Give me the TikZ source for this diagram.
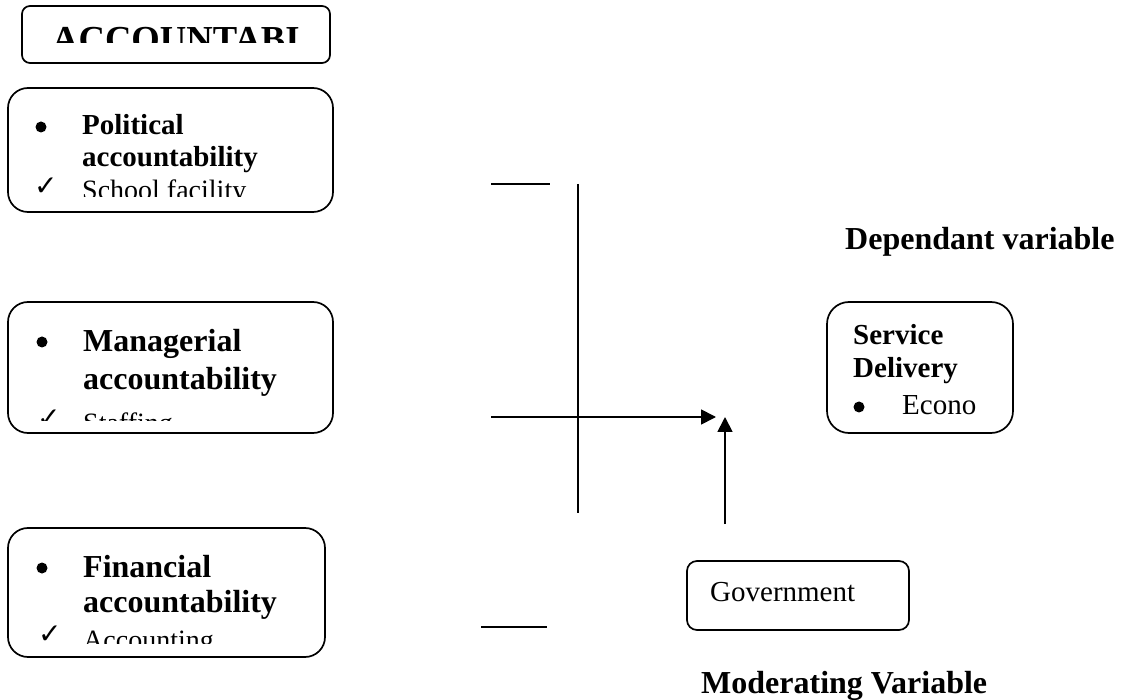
\documentclass[tikz,border=0pt]{standalone}
\usepackage{fontspec}
\setmainfont{Liberation Serif}
\newfontfamily\symfont{DejaVu Sans}
\usetikzlibrary{arrows.meta}
\begin{document}
\begin{tikzpicture}[x=1pt,y=-1pt,
  box/.style={draw, line width=1.7pt, rounded corners=#1, inner sep=0pt},
  box/.default=20pt,
  tr/.style={anchor=base west, inner sep=0pt, font=\fontsize{#1pt}{#1pt}\selectfont},
  tb/.style={anchor=base west, inner sep=0pt, font=\fontsize{#1pt}{#1pt}\selectfont\bfseries},
  chk/.style={anchor=base west, inner sep=0pt, font=\symfont\fontsize{28pt}{28pt}\selectfont},
  link/.style={line width=1.8pt},
  arr/.style={line width=1.8pt, -{Triangle[length=15pt,width=15pt]}},
  dot/.style={fill=black}
  ]
\useasboundingbox (0,0) rectangle (1122,700);

% boxes
\node[box=8pt, minimum width=308pt, minimum height=57pt] (acc) at (176,34.5) {};
\node[box, minimum width=325pt, minimum height=124pt] (pol) at (170.5,150) {};
\node[box, minimum width=325pt, minimum height=131pt] (man) at (170.5,367.5) {};
\node[box, minimum width=317pt, minimum height=129pt] (fin) at (166.5,592.5) {};
\node[box=22pt, minimum width=186pt, minimum height=131pt] (srv) at (920,367.5) {};
\node[box=10pt, minimum width=222pt, minimum height=69pt] (gov) at (798,595.5) {};

% title box text (clipped)
\begin{scope}
  \clip (22,6) rectangle (330,43);
  \node[tb=36.6] (acct) at (52,52) {ACCOUNTABI};
\end{scope}

% political
\begin{scope}
  \clip (8,88) rectangle (333,197);
  \fill[dot] (41,127) circle (5.5);
  \node[tb=29] (pol1) at (82,135) {Political};
  \node[tb=29] (pol2) at (82,167) {accountability};
  \node[chk] (pol3c) at (34,196) {✓};
  \node[tr=28] (pol3) at (82,200) {School facility};
\end{scope}

% managerial
\begin{scope}
  \clip (8,302) rectangle (333,421);
  \fill[dot] (42,342) circle (5.5);
  \node[tb=32] (man1) at (83,352) {Managerial};
  \node[tb=32] (man2) at (83,390) {accountability};
  \node[chk] (man3c) at (37,428) {✓};
  \node[tr=28] (man3) at (83,432) {Staffing};
\end{scope}

% financial
\begin{scope}
  \clip (8,528) rectangle (325,643);
  \fill[dot] (42,568) circle (5.5);
  \node[tb=32] (fin1) at (83,577) {Financial};
  \node[tb=32] (fin2) at (83,612) {accountability};
  \node[chk] (fin3c) at (38,643) {✓};
  \node[tr=28] (fin3) at (83,649) {Accounting};
\end{scope}

% service delivery
\node[tb=29] (srv1) at (853,345) {Service};
\node[tb=29] (srv2) at (853,378) {Delivery};
\fill[dot] (859,407) circle (5.5);
\node[tr=29] (srv3) at (902,414) {Econo};

% government
\node[tr=29] (govt) at (710,601) {Government};

% labels
\node[tb=32] (dep) at (845,250) {Dependant variable};
\node[tb=32] (mod) at (701,693) {Moderating Variable};

% connectors
\coordinate (tlA) at (491,184);
\coordinate (tlB) at (550,184);
\coordinate (vA) at (578,184);
\coordinate (vB) at (578,513);
\coordinate (hA) at (491,417);
\coordinate (hB) at (716,417);
\coordinate (uA) at (725,524);
\coordinate (uB) at (725,417);
\coordinate (blA) at (481,627);
\coordinate (blB) at (547,627);

\draw[link] (tlA) -- (tlB);
\draw[link] (vA) -- (vB);
\draw[arr] (hA) -- (hB);
\draw[arr] (uA) -- (uB);
\draw[link] (blA) -- (blB);
\end{tikzpicture}
\end{document}
